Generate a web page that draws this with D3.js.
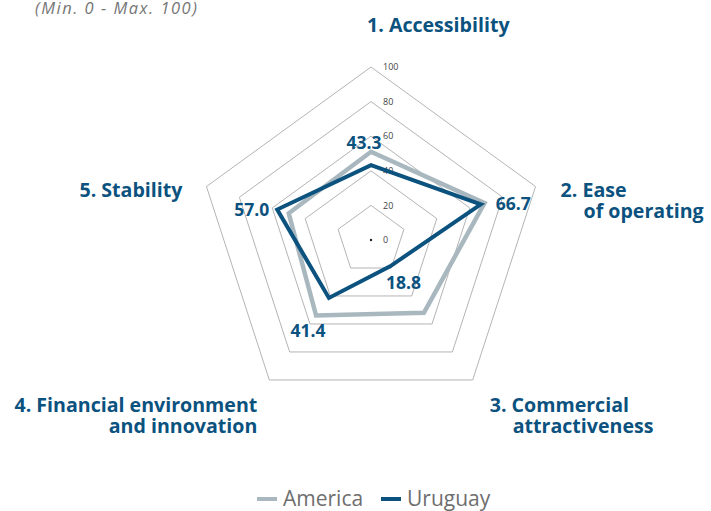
<!DOCTYPE html>
<html>
<head>
<meta charset="utf-8">
<script src="https://cdn.jsdelivr.net/npm/d3@7"></script>
<style>
  body { margin: 0; background: #fff; }
  svg { display: block; font-family: "Open Sans", sans-serif; }
</style>
</head>
<body>
<div id="chart"></div>
<script>
// Radar chart - America vs Uruguay
const axes = ["1. Accessibility", "2. Ease of operating", "3. Commercial attractiveness", "4. Financial environment and innovation", "5. Stability"];
const america = [51, 69, 52, 54, 50];
const uruguay = [43.3, 66.7, 18.8, 41.4, 57.0];
const ticks = [0, 20, 40, 60, 80, 100];

const width = 711, height = 511;
const cx = 371, cy = 240, R = 173;
const blue = "#0b527f", grey = "#a9b8bf";

const svg = d3.select("#chart").append("svg")
    .attr("width", width)
    .attr("height", height);

const r = d3.scaleLinear().domain([0, 100]).range([0, R]);
const angle = i => i * 2 * Math.PI / axes.length;
const pt = (i, v) => [cx + r(v) * Math.sin(angle(i)), cy - r(v) * Math.cos(angle(i))];

// grid rings
svg.append("g")
    .selectAll("polygon")
    .data(ticks.filter(t => t > 0))
    .join("polygon")
    .attr("points", t => axes.map((a, i) => pt(i, t).join(",")).join(" "))
    .attr("fill", "none")
    .attr("stroke", "#b4b4b4")
    .attr("stroke-width", 1);

svg.append("circle")
    .attr("cx", cx).attr("cy", cy).attr("r", 1.2)
    .attr("fill", "#222");

svg.append("g")
    .selectAll("text")
    .data(ticks)
    .join("text")
    .attr("x", cx + 12)
    .attr("y", t => cy - r(t))
    .attr("dy", "0.35em")
    .style("font-size", "9px")
    .style("fill", "#444")
    .text(d => d);

// series
const line = d3.line().curve(d3.curveLinearClosed);
svg.append("path")
    .attr("d", line(america.map((v, i) => pt(i, v))))
    .attr("fill", "none")
    .attr("stroke", grey)
    .attr("stroke-width", 4.5)
    .attr("stroke-linejoin", "miter");

svg.append("path")
    .attr("d", line(uruguay.map((v, i) => pt(i, v))))
    .attr("fill", "none")
    .attr("stroke", blue)
    .attr("stroke-width", 4)
    .attr("stroke-linejoin", "miter");

// value labels for Uruguay
const valueOffsets = [[-7, -22, "middle"], [15, 0, "start"], [-4, 17, "start"], [-21, 33, "middle"], [-8, 0, "end"]];
svg.append("g")
    .selectAll("text")
    .data(uruguay)
    .join("text")
    .attr("x", (v, i) => pt(i, v)[0] + valueOffsets[i][0])
    .attr("y", (v, i) => pt(i, v)[1] + valueOffsets[i][1])
    .attr("dy", "0.35em")
    .attr("text-anchor", (v, i) => valueOffsets[i][2])
    .style("font-size", "17.5px")
    .style("font-weight", "bold")
    .style("fill", blue)
    .text(v => v.toFixed(1));

// axis labels, one text per line
const axisLabels = [
    { lines: ["1. Accessibility"], dx: -4, dy: -35, anchor: "start", indent: 0 },
    { lines: ["2. Ease", "of operating"], dx: 25, dy: 10, anchor: "start", indent: 23 },
    { lines: ["3. Commercial", "attractiveness"], dx: 17, dy: 32, anchor: "start", indent: 23 },
    { lines: ["4. Financial environment", "and innovation"], dx: -12, dy: 32, anchor: "end", indent: 0 },
    { lines: ["5. Stability"], dx: -24, dy: 10, anchor: "end", indent: 0 }
];

axisLabels.forEach((lab, i) => {
    const [x, y] = pt(i, 100);
    lab.lines.forEach((l, j) => {
        svg.append("text")
            .attr("x", x + lab.dx + (j > 0 ? lab.indent : 0))
            .attr("y", y + lab.dy + j * 21.5)
            .attr("text-anchor", lab.anchor)
            .style("font-size", "19.6px")
            .style("font-weight", "bold")
            .style("fill", blue)
            .text(l);
    });
});

// subtitle
svg.append("text")
    .attr("x", 35)
    .attr("y", 13.5)
    .style("font-size", "16.5px")
    .style("letter-spacing", "1.5px")
    .style("font-style", "italic")
    .style("fill", "#777")
    .text("(Min. 0 - Max. 100)");

// legend
const legend = [{ name: "America", color: grey }, { name: "Uruguay", color: blue }];
const lg = svg.append("g").attr("transform", "translate(257,499)");
const legendX = [0, 124];
legend.forEach((d, i) => {
    lg.append("line")
        .attr("x1", legendX[i]).attr("x2", legendX[i] + 20)
        .attr("y1", 0).attr("y2", 0)
        .attr("stroke", d.color)
        .attr("stroke-width", 4);
    lg.append("text")
        .attr("x", legendX[i] + 26)
        .attr("y", 0)
        .attr("dy", "0.35em")
        .style("font-size", "21px")
        .style("fill", "#6e6e6e")
        .text(d.name);
});
</script>
</body>
</html>
